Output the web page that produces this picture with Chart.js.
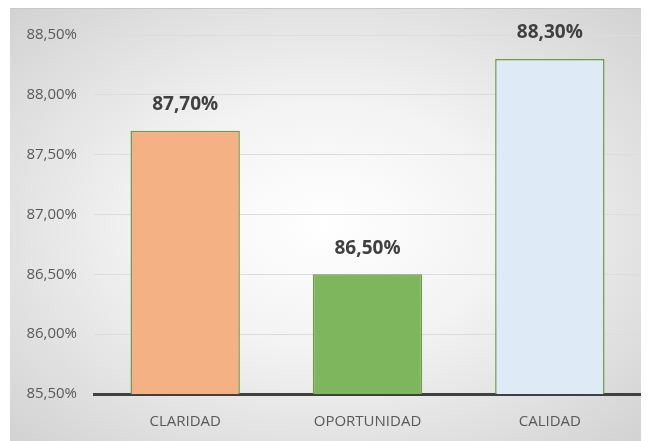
<!DOCTYPE html>
<html>
<head>
<meta charset="utf-8">
<script src="https://cdn.jsdelivr.net/npm/chart.js@4"></script>
<style>
  html, body { margin: 0; padding: 0; background: #ffffff; }
  #marco {
    position: absolute; left: 10px; top: 8px; width: 631px; height: 433px;
    background: radial-gradient(ellipse at 50% 50%, #ffffff 0%, #f3f3f3 40%, #d2d2d2 100%);
    border-top: 1px solid #c8c8c8;
    box-sizing: border-box;
  }
  canvas { display: block; }
</style>
</head>
<body>
<div id="marco"><canvas id="grafico" width="631" height="432"></canvas></div>
<script>
const categorias = ['CLARIDAD', 'OPORTUNIDAD', 'CALIDAD'];
const valores = [87.70, 86.50, 88.30];
const colores = ['#F4B183', '#7DB65C', '#DEEBF7'];
const etiquetasEje = ['85,50%', '86,00%', '86,50%', '87,00%', '87,50%', '88,00%', '88,50%'];

const fmt = v => v.toFixed(2).replace('.', ',') + '%';

// etiquetas de datos encima de cada barra
const etiquetasBarras = {
  id: 'etiquetasBarras',
  afterDatasetsDraw(chart) {
    const c = chart.ctx;
    const meta = chart.getDatasetMeta(0);
    c.save();
    c.font = 'bold 19px "Open Sans", sans-serif';
    c.fillStyle = '#404040';
    c.textAlign = 'center';
    c.textBaseline = 'middle';
    meta.data.forEach((bar, i) => {
      c.fillText(fmt(valores[i]), bar.x, bar.y - 26);
    });
    c.restore();
  }
};

new Chart(document.getElementById('grafico').getContext('2d'), {
  type: 'bar',
  data: {
    labels: categorias,
    datasets: [{
      data: valores,
      backgroundColor: colores,
      borderColor: '#6A9E45',
      borderWidth: 1.5,
      barPercentage: 0.6,
      categoryPercentage: 1
    }]
  },
  options: {
    responsive: false,
    animation: false,
    layout: { padding: { top: 15, right: 0, left: 0, bottom: 0 } },
    plugins: { legend: { display: false }, tooltip: { enabled: false } },
    scales: {
      y: {
        min: 85.5,
        max: 88.5,
        ticks: {
          stepSize: 0.5,
          padding: 17,
          color: '#595959',
          font: { family: '"Open Sans", sans-serif', size: 15 },
          callback: (v, i) => etiquetasEje[i]
        },
        grid: { color: '#dcdcdc', drawTicks: false },
        border: { display: false },
        afterFit(s) { s.width = 84; }
      },
      x: {
        ticks: {
          padding: 19,
          color: '#595959',
          font: { family: '"Open Sans", sans-serif', size: 15 }
        },
        grid: { display: false, drawTicks: false },
        border: { color: '#404040', width: 3 },
        afterFit(s) { s.height = 47; }
      }
    }
  },
  plugins: [etiquetasBarras]
});
</script>
</body>
</html>
